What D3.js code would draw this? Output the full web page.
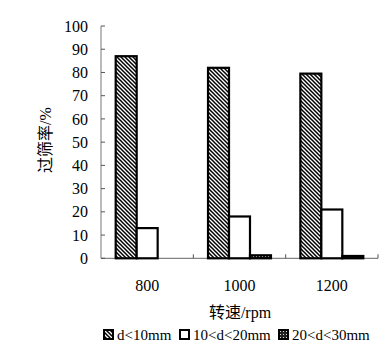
<!DOCTYPE html>
<html><head><meta charset="utf-8">
<script src="https://cdn.jsdelivr.net/npm/d3@7"></script>
<style>body{margin:0;background:#fff}svg{display:block}</style>
</head><body>
<svg id="c" width="388" height="355"></svg>
<script>
const categories = ["800", "1000", "1200"];
const seriesNames = ["d<10mm", "10<d<20mm", "20<d<30mm"];
const s1 = [87, 82, 79.5];
const s2 = [13, 18, 21];
const s3 = [0, 1.3, 1.0];
const yTicks = [0, 10, 20, 30, 40, 50, 60, 70, 80, 90, 100];
const yTitle = "过筛率/%";
const xTitle = "转速/rpm";

const series = [s1, s2, s3];
const svg = d3.select("#c");
const serif = "'Liberation Serif','DejaVu Serif','Noto Sans CJK SC',serif";
const L = 101, R = 378, T = 26, B = 258.3;

const defs = svg.append("defs");
const p1 = defs.append("pattern").attr("id","hatch").attr("patternUnits","userSpaceOnUse")
  .attr("width",4).attr("height",4);
p1.append("rect").attr("width",4).attr("height",4).attr("fill","#fff");
p1.append("path").attr("d","M-1,-1 L5,5 M-1,3 L1,5 M3,-1 L5,1").attr("stroke","#000").attr("stroke-width",1.5);
const p3 = defs.append("pattern").attr("id","dots").attr("patternUnits","userSpaceOnUse")
  .attr("width",3).attr("height",3);
p3.append("rect").attr("width",3).attr("height",3).attr("fill","#222");
p3.append("rect").attr("x",1).attr("y",1).attr("width",1).attr("height",1).attr("fill","#ddd");
const fills = ["url(#hatch)", "#fff", "url(#dots)"];

const x0 = d3.scaleBand().domain(categories).range([L, R]).padding(0);
const x1 = d3.scaleBand().domain(seriesNames).range([0, x0.bandwidth()]).paddingInner(0).paddingOuter(0.7);
const y = d3.scaleLinear().domain([0, 100]).range([B, T]);

// axes
svg.append("line").attr("x1",L).attr("x2",L).attr("y1",T).attr("y2",B).attr("stroke","#777").attr("stroke-width",1);
svg.append("line").attr("x1",L).attr("x2",R).attr("y1",B).attr("y2",B).attr("stroke","#666").attr("stroke-width",1);
yTicks.forEach(t => {
  svg.append("line").attr("x1",L).attr("x2",L+4).attr("y1",y(t)).attr("y2",y(t)).attr("stroke","#555");
  svg.append("text").attr("x",88).attr("y",y(t)).attr("dy","0.35em").attr("text-anchor","end")
    .attr("font-family",serif).attr("font-size",16).text(t);
});
const bounds = categories.map(c => x0(c)).concat([R]);
bounds.slice(1).forEach(b => {
  svg.append("line").attr("x1",b).attr("x2",b).attr("y1",B).attr("y2",B-4).attr("stroke","#555");
});
categories.forEach(c => {
  svg.append("text").attr("x",x0(c)+x0.bandwidth()/2).attr("y",291).attr("text-anchor","middle")
    .attr("font-family",serif).attr("font-size",16).text(c);
});

// bars
categories.forEach((c, i) => {
  series.forEach((s, j) => {
    const v = s[i];
    if (v <= 0) return;
    svg.append("rect").attr("x",x0(c)+x1(seriesNames[j])).attr("y",y(v))
      .attr("width",x1.bandwidth()).attr("height",B - y(v))
      .attr("fill",fills[j]).attr("stroke","#000").attr("stroke-width",2.2);
  });
});

// titles
svg.append("text").attr("x",240).attr("y",318).attr("text-anchor","middle")
  .attr("font-family",serif).attr("font-size",16).text(xTitle);
svg.append("text").attr("transform","translate(51,140) rotate(-90)").attr("text-anchor","middle")
  .attr("font-family",serif).attr("font-size",16).text(yTitle);

// legend
const legX = [103, 179, 278];
seriesNames.forEach((n, j) => {
  svg.append("rect").attr("x",legX[j]+1).attr("y",330).attr("width",9).attr("height",9)
    .attr("fill",fills[j]).attr("stroke","#000").attr("stroke-width",2);
  svg.append("text").attr("x",legX[j]+14).attr("y",340).attr("font-family",serif)
    .attr("font-size",15).text(n);
});
</script>
</body></html>
